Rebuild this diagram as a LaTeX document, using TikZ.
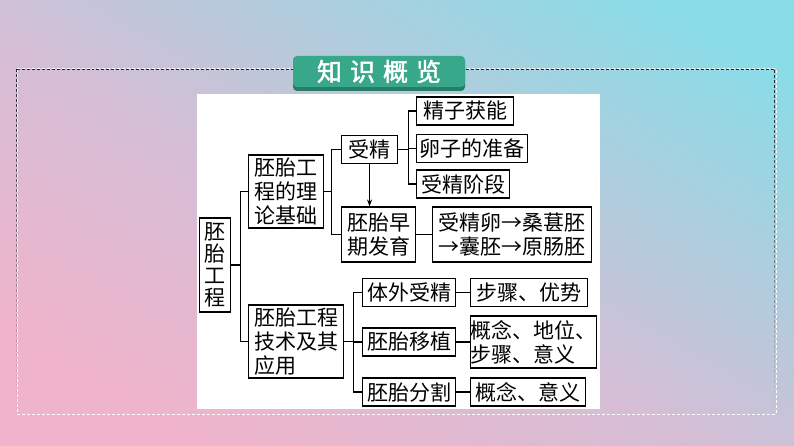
\documentclass[tikz,border=0pt]{standalone}
\usepackage{fontspec}
\setmainfont{Noto Sans CJK SC}
\newfontfamily\titlefont[FakeBold=2]{Noto Sans CJK SC}
\usepackage{xcolor}
\usepackage{tikz}
\usetikzlibrary{positioning,arrows.meta,fadings}
\definecolor{bgpink}{HTML}{EFB4CB}
\definecolor{bgmid}{HTML}{D4BED6}
\definecolor{bgblue}{HTML}{B4CBDC}
\definecolor{bgcyan}{HTML}{8ADCE7}
\definecolor{badge}{HTML}{37A88A}
\definecolor{badgesh}{HTML}{2A7C68}
\definecolor{dashdark}{HTML}{18242F}
\pgfdeclareverticalshading{bgshade}{100bp}{color(0bp)=(bgpink); color(25bp)=(bgpink);
  color(47bp)=(bgmid); color(60bp)=(bgblue); color(78bp)=(bgcyan); color(100bp)=(bgcyan)}
\tikzfading[name=fadedown,top color=transparent!0,middle color=transparent!10,bottom color=transparent!100]

\begin{document}
\begin{tikzpicture}[x=1pt,y=-1pt,line width=1.1pt,>={Stealth[length=7pt,width=5pt]},
  box/.style={draw,fill=white,inner xsep=3pt,inner ysep=2pt,minimum height=28pt,anchor=west,
    font=\fontsize{21}{24}\selectfont},
  mbox/.style={box,align=left},
  frame/.style={line width=1pt,dash pattern=on 3pt off 2pt}]
\useasboundingbox (0,0) rectangle (794,446);
\shade[shading=bgshade,shading angle=-30] (0,0) rectangle (794,446);
\draw[frame,white] (17,69) rectangle (776,414);
\draw[frame,dashdark,path fading=fadedown] (17,69) rectangle (776,414);
\fill[white] (197,94) rectangle (600,409);
\fill[badgesh,rounded corners=4pt] (293,59) rectangle (465,91);
\node[fill=badge,rounded corners=4pt,minimum width=172pt,minimum height=31pt,text=white,
  font=\titlefont\fontsize{25}{25}\selectfont] (title) at (379,71.5)
  {知\hspace{8pt}识\hspace{8pt}概\hspace{8pt}览};

\node[mbox,align=center,font=\fontsize{21}{22}\selectfont,minimum width=31pt,minimum height=94pt] (pt) at (199,265) {胚\\胎\\工\\程};
\node[mbox,minimum width=75pt,minimum height=73pt] (jc) at (248,191.5) {胚胎工\\程的理\\论基础};
\node[mbox,minimum width=95pt,minimum height=73pt] (js) at (248,341.5) {胚胎工程\\技术及其\\应用};
\node[mbox,minimum width=74pt,minimum height=55pt] (zq) at (341,234.5) {胚胎早\\期发育};
\node[mbox,align=center,minimum width=159pt,minimum height=55pt] (fy) at (432,234.5) {受精卵→桑葚胚\\→囊胚→原肠胚};
\node[mbox,inner xsep=0pt,minimum width=125pt,minimum height=52pt] (gn) at (470,342) {概念、地位、\\步骤、意义};
\foreach \i/\txt/\x/\y/\w in {sj/受精/341/149.5/56, jz/精子获能/416/111/97, lz/卵子的准备/416/148.5/111,
  sd/受精阶段/416/184/93, tw/体外受精/362/292.5/93, yz/胚胎移植/362/342/93,
  fg/胚胎分割/362/392/93, by/步骤、优势/470/292.5/117, gy/概念、意义/470/392/115}
  \node[box,minimum width=\w pt] (\i) at (\x,\y) {\txt};

\draw (pt.east) -- ++(9,0) coordinate (b0);
\foreach \n in {jc,js} \draw (b0) |- (\n.west);
\draw (jc.east) -- ++(7,0) coordinate (b1);
\foreach \n in {sj,zq} \draw (b1) |- (\n.west);
\draw (sj.east) -- ++(10,0) coordinate (b2);
\foreach \n in {jz,lz,sd} \draw (b2) |- (\n.west);
\draw[->] (sj) -- (sj |- zq.north);
\draw (js.east) -- ++(9,0) coordinate (b3);
\foreach \n in {tw,yz,fg} \draw (b3) |- (\n.west);
\foreach \a/\b in {zq/fy,tw/by,yz/gn,fg/gy} \draw (\a)--(\b);
\end{tikzpicture}
\end{document}
